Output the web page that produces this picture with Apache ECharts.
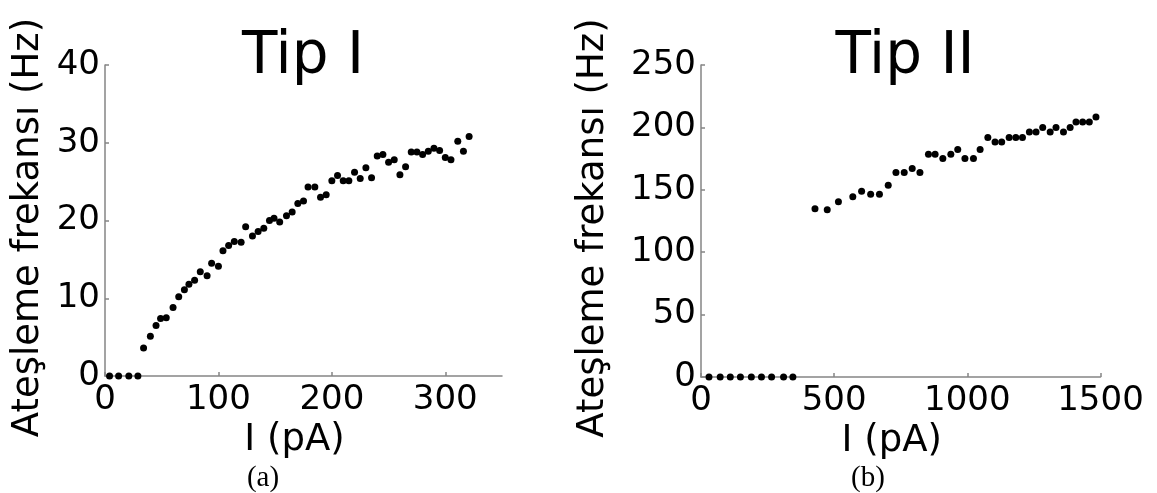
<!DOCTYPE html>
<html>
<head>
<meta charset="utf-8">
<script src="https://cdn.jsdelivr.net/npm/echarts@6/dist/echarts.min.js"></script>
<style>
  html, body { margin: 0; padding: 0; background: #ffffff; }
  #main { width: 1157px; height: 493px; }
</style>
</head>
<body>
<div id="main"></div>
<script>
// Tip I: current (pA) and firing rate (Hz)
var tip1Current = [4, 12, 21, 29, 34, 40, 45, 49, 54, 60, 65, 70, 74, 79, 84, 90, 94, 100, 104, 109,
    114, 120, 124, 130, 135, 140, 145, 149, 154, 160, 165, 170, 175, 179, 185, 190, 195, 200, 205, 210,
    215, 220, 225, 230, 235, 240, 245, 250, 255, 260, 265, 270, 275, 280, 285, 290, 295, 300, 305, 311,
    316, 321];
var tip1Rate = [0, 0, 0, 0, 3.6, 5.1, 6.5, 7.4, 7.5, 8.8, 10.2, 11.1, 11.8, 12.3, 13.4, 12.9, 14.5, 14.1, 16.1, 16.8,
    17.3, 17.2, 19.2, 18.0, 18.6, 19.0, 20.0, 20.3, 19.8, 20.6, 21.1, 22.2, 22.5, 24.3, 24.3, 23.0, 23.3, 25.1, 25.8, 25.1,
    25.1, 26.2, 25.4, 26.8, 25.5, 28.3, 28.5, 27.5, 27.8, 25.9, 26.9, 28.8, 28.8, 28.5, 28.9, 29.3, 29.0, 28.1, 27.8, 30.2,
    28.9, 30.8];

// Tip II
var tip2Current = [30, 72, 110, 148, 189, 227, 265, 310, 345, 428, 474, 516, 570, 603, 637, 670, 703, 732, 763, 793,
    822, 854, 879, 908, 938, 964, 991, 1023, 1048, 1077, 1104, 1129, 1157, 1182, 1207, 1233, 1258, 1283, 1311, 1333,
    1361, 1386, 1408, 1433, 1458, 1483];
var tip2Rate = [0, 0, 0, 0, 0, 0, 0, 0, 0, 134.8, 134, 140.4, 144.4, 148.9, 146.5, 146.5, 153.7, 163.9, 163.9, 167.1,
    163.9, 178.5, 178.5, 175.1, 178.5, 182.3, 175.1, 175.1, 182.3, 191.9, 188.4, 188.4, 191.9, 191.9, 191.9, 196.4, 196.4, 199.9, 196.4, 199.9,
    196.4, 199.9, 204.4, 204.4, 204.4, 208.4];

var titles = ['Tip I', 'Tip II'];
var captions = ['(a)', '(b)'];
var xName = 'I (pA)';
var yName = 'Ateşleme frekansı (Hz)';

function pairs(xs, ys) {
    return xs.map(function (x, i) { return [x, ys[i]]; });
}

var font = 'DejaVu Sans';
var axisGray = '#858585';

function plain(v) { return String(v); }

function xAxisFor(idx, max, interval, hideMax) {
    return {
        type: 'value', gridIndex: idx, min: 0, max: max, interval: interval,
        name: xName, nameLocation: 'middle', nameGap: 46,
        nameTextStyle: { fontFamily: font, fontSize: 37, color: '#000', padding: [0, 18, 0, 0] },
        axisLine: { show: true, lineStyle: { color: axisGray, width: 1.5 } },
        axisTick: { show: true, inside: true, length: 4, lineStyle: { color: axisGray, width: 1.5 } },
        axisLabel: { fontFamily: font, fontSize: 34, color: '#000', margin: 7, showMaxLabel: !hideMax, formatter: plain },
        splitLine: { show: false }
    };
}

function yAxisFor(idx, max, interval, gap) {
    return {
        type: 'value', gridIndex: idx, min: 0, max: max, interval: interval,
        name: yName, nameLocation: 'middle', nameGap: gap,
        nameTextStyle: { fontFamily: font, fontSize: 37, color: '#000', padding: [0, 14, 0, 0] },
        axisLine: { show: true, lineStyle: { color: axisGray, width: 1.5 } },
        axisTick: { show: true, inside: true, length: 4, lineStyle: { color: axisGray, width: 1.5 } },
        axisLabel: { fontFamily: font, fontSize: 34, color: '#000', margin: 5, formatter: plain },
        splitLine: { show: false }
    };
}

var chart = echarts.init(document.getElementById('main'));
var option = {
    backgroundColor: '#ffffff',
    animation: false,
    title: [
        { text: titles[0], left: 298, top: 24, textAlign: 'center',
          textStyle: { fontFamily: font, fontSize: 58, fontWeight: 'normal', color: '#000' } },
        { text: titles[1], left: 900, top: 24, textAlign: 'center',
          textStyle: { fontFamily: font, fontSize: 58, fontWeight: 'normal', color: '#000' } },
        { text: captions[0], left: 258, top: 459, textAlign: 'center',
          textStyle: { fontFamily: 'Liberation Serif', fontSize: 29, fontWeight: 'normal', color: '#000' } },
        { text: captions[1], left: 863, top: 459, textAlign: 'center',
          textStyle: { fontFamily: 'Liberation Serif', fontSize: 29, fontWeight: 'normal', color: '#000' } }
    ],
    grid: [
        { left: 105, top: 65, width: 397, height: 311 },
        { left: 701, top: 65, width: 399.5, height: 312 }
    ],
    xAxis: [
        xAxisFor(0, 350, 100, true),
        xAxisFor(1, 1500, 500, false)
    ],
    yAxis: [
        yAxisFor(0, 40, 10, 58),
        yAxisFor(1, 250, 50, 89)
    ],
    series: [
        {
            type: 'scatter', xAxisIndex: 0, yAxisIndex: 0,
            data: pairs(tip1Current, tip1Rate),
            symbolSize: 7, itemStyle: { color: '#000', opacity: 1 }
        },
        {
            type: 'scatter', xAxisIndex: 1, yAxisIndex: 1,
            data: pairs(tip2Current, tip2Rate),
            symbolSize: 7, itemStyle: { color: '#000', opacity: 1 }
        }
    ]
};
chart.setOption(option);
</script>
</body>
</html>
